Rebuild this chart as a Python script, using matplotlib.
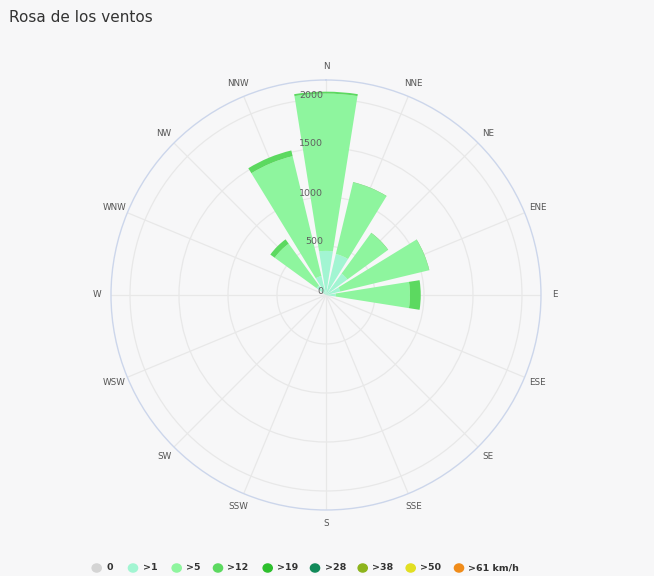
import numpy as np
import matplotlib.pyplot as plt

direcciones = ["N", "NNE", "NE", "ENE", "E", "ESE", "SE", "SSE",
               "S", "SSW", "SW", "WSW", "W", "WNW", "NW", "NNW"]
categorias = ["0", ">1", ">5", ">12", ">19", ">28", ">38", ">50", ">61 km/h"]
colores = ["#d4d4d4", "#a2f5d2", "#8ef59e", "#5cd960", "#2dbf2d",
           "#128a5a", "#8db41c", "#e2df22", "#f08c1a"]

# frecuencias por categoria (apiladas), una lista por direccion
v_0 =  [0, 0, 0, 0, 0, 0, 0, 0, 0, 0, 0, 0, 0, 0, 0, 0]
v_1 =  [450, 430, 270, 150, 100, 0, 0, 0, 0, 0, 0, 0, 0, 0, 120, 200]
v_5 =  [1605, 750, 510, 930, 757, 0, 0, 0, 0, 0, 0, 0, 0, 0, 527, 1257]
v_12 = [20, 5, 5, 5, 110, 0, 0, 0, 0, 0, 0, 0, 0, 0, 55, 60]
series = [v_0, v_1, v_5, v_12]
ticks_r = [0, 500, 1000, 1500, 2000]
rmax = 2194

fondo = "#f7f7f8"
fig = plt.figure(figsize=(6.54, 5.76), dpi=100, facecolor=fondo)
ax = fig.add_axes([0.1697, 0.1146, 0.6575, 0.7465], projection="polar")
ax.set_facecolor(fondo)
ax.set_theta_zero_location("N")
ax.set_theta_direction(-1)

n = len(direcciones)
theta = np.arange(n) * 2 * np.pi / n
ancho = 0.8 * 2 * np.pi / n
base = np.zeros(n)
for vals, col in zip(series, colores):
    vals = np.array(vals, dtype=float)
    ax.bar(theta, vals, width=ancho, bottom=base, color=col,
           edgecolor="none", zorder=3)
    base += vals

ax.set_ylim(0, rmax)
ax.set_rgrids([500, 1000, 1500, 2000], labels=[])
ax.set_thetagrids(np.degrees(theta), labels=[])
ax.grid(True, color="#e8e8e8", linewidth=0.9, zorder=0)
ax.spines["polar"].set_color("#ccd6eb")
ax.spines["polar"].set_linewidth(1.0)
ax.tick_params(length=0)

for d, t in zip(direcciones, theta):
    ax.text(t, rmax * 1.065, d, ha="center", va="center", fontsize=6.3,
            color="#555555", clip_on=False)

# etiquetas radiales a la izquierda del eje N
for r in ticks_r:
    y = 1 - (295 - r * 0.098 - 4) / 576
    fig.text(323 / 654, y, str(r), ha="right", va="center",
             fontsize=6.8, color="#606060", zorder=10)

fig.text(9 / 654, 1 - 18 / 576, "Rosa de los ventos", fontsize=11,
         color="#333333", ha="left", va="center")

# leyenda
xs = [96.7, 133, 176.7, 218, 267.7, 315, 362.7, 410.7, 459]
for x, c, lab in zip(xs, colores, categorias):
    fig.patches.append(plt.Circle((x / 654, 1 - 568 / 576), 4.6 / 654,
                                  transform=fig.transFigure, color=c,
                                  figure=fig))
    fig.text((x + 9.5) / 654, 1 - 568 / 576, lab, fontsize=6.8,
             fontweight="bold", color="#333333", ha="left", va="center")

fig.savefig("out.png", dpi=100, facecolor=fondo)
